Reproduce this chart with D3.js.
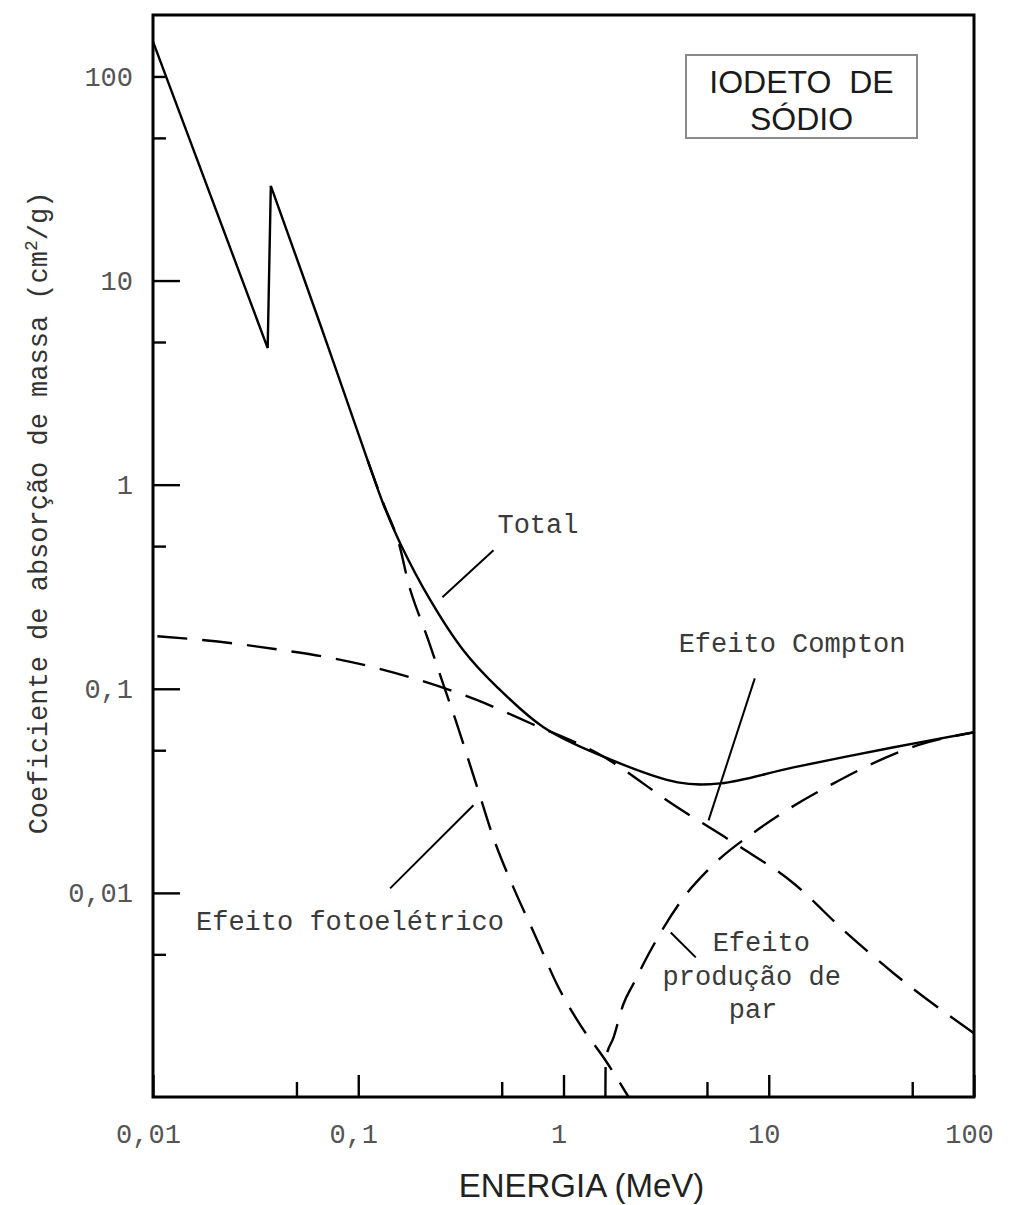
<!DOCTYPE html>
<html>
<head>
<meta charset="utf-8">
<script src="https://cdn.jsdelivr.net/npm/d3@7"></script>
<style>
  html, body { margin: 0; padding: 0; background: #fff; }
  svg { display: block; }
</style>
</head>
<body>
<svg id="chart" width="1011" height="1205"></svg>
<script>
// ---------------- DATA ----------------
// Energy in MeV, mass absorption coefficient in cm^2/g
const totalEnergyLow   = [0.01, 0.0362, 0.0375];
const totalValueLow    = [148, 4.67, 29.1];
const totalEnergyHigh  = [0.0375, 0.0653, 0.111, 0.132, 0.160, 0.2245, 0.325, 0.476, 0.799, 1.465, 3.60, 5.83, 13.2, 40.7, 100];
const totalValueHigh   = [29.1, 6.09, 1.32, 0.811, 0.517, 0.272, 0.1546, 0.1017, 0.0648, 0.0478, 0.0348, 0.0344, 0.0412, 0.0517, 0.0612];

const photoEnergy  = [0.111, 0.1324, 0.155, 0.1795, 0.2194, 0.2655, 0.3006, 0.3936, 0.4656, 0.570, 0.746, 0.946, 1.211, 1.603, 2.075];
const photoValue   = [1.32, 0.811, 0.547, 0.304, 0.173, 0.0984, 0.0685, 0.0294, 0.0175, 0.01064, 0.00585, 0.00344, 0.002244, 0.00151, 0.001];

const comptonEnergy = [0.0105, 0.0245, 0.0431, 0.0756, 0.1795, 0.380, 0.690, 1.465, 3.60, 7.06, 13.2, 23.2, 40.7, 100];
const comptonValue  = [0.181, 0.167, 0.1544, 0.141, 0.1138, 0.0879, 0.0678, 0.0483, 0.0262, 0.0171, 0.01115, 0.00655, 0.00403, 0.00205];

const pairEnergy = [1.60, 1.605, 1.754, 1.963, 2.195, 2.655, 3.85, 5.21, 9.14, 20.7, 53.3, 100];
const pairValue  = [0.001, 0.00153, 0.00196, 0.00287, 0.0036, 0.00522, 0.0095, 0.01334, 0.0209, 0.0344, 0.0529, 0.0612];

// Axis ticks and labels
const xMajorTicks = [0.01, 0.1, 1, 10, 100];
const xMinorTicks = [0.05, 0.5, 5, 50];
const yMajorTicks = [100, 10, 1, 0.1, 0.01];
const yMinorTicks = [50, 5, 0.5, 0.05, 0.005];

const xTitle = "ENERGIA (MeV)";
const yTitleMain = "Coeficiente de absorção de massa (cm";
const yTitleSup = "2";
const yTitleEnd = "/g)";
const boxLines = ["IODETO  DE", "SÓDIO"];

// Annotations (data coordinates)
const annotationTexts  = ["Total", "Efeito Compton", "Efeito fotoelétrico", "Efeito", "produção de", "par"];
const annotationEnergy = [0.4766, 3.64, 0.0162, 5.33, 3.04, 6.38];
const annotationValue  = [0.578, 0.151, 0.00655, 0.00522, 0.00352, 0.00243];

const pointerE1 = [0.456, 8.55, 0.364, 3.33];
const pointerV1 = [0.4775, 0.1125, 0.0269, 0.0064];
const pointerE2 = [0.257, 5.09, 0.143, 4.41];
const pointerV2 = [0.281, 0.02266, 0.01052, 0.00483];

// ---------------- DRAWING ----------------
const svg = d3.select("#chart");
svg.append("rect").attr("width", 1011).attr("height", 1205).attr("fill", "#fff");

const x = d3.scaleLog().domain([0.01, 100]).range([153, 974]);
const y = d3.scaleLog().domain([0.001, 200]).range([1097, 15]);

const monoFont = "'Liberation Mono', 'DejaVu Sans Mono', monospace";
const sansFont = "'Liberation Sans', Arial, sans-serif";
const fmt = d => String(d).replace(".", ",");

const zip = (a, b) => a.map((v, i) => [v, b[i]]);

const lineLinear = d3.line().x(d => x(d[0])).y(d => y(d[1])).curve(d3.curveLinear);
const lineSmooth = d3.line().x(d => x(d[0])).y(d => y(d[1])).curve(d3.curveMonotoneX);
const lineCatmull = d3.line().x(d => x(d[0])).y(d => y(d[1])).curve(d3.curveCatmullRom.alpha(0.5));

const plot = svg.append("g");

// Dashed component curves
const dash = "30,15";
[[photoEnergy, photoValue, lineCatmull], [comptonEnergy, comptonValue, lineSmooth], [pairEnergy, pairValue, lineSmooth]].forEach(([e, v, gen]) => {
  plot.append("path")
    .attr("d", gen(zip(e, v)))
    .attr("fill", "none")
    .attr("stroke", "#000")
    .attr("stroke-width", 2.4)
    .attr("stroke-dasharray", dash);
});

// Total solid curve
plot.append("path")
  .attr("d", lineLinear(zip(totalEnergyLow, totalValueLow)))
  .attr("fill", "none").attr("stroke", "#000").attr("stroke-width", 2.4)
  .attr("stroke-linejoin", "miter");
plot.append("path")
  .attr("d", lineCatmull(zip(totalEnergyHigh, totalValueHigh)))
  .attr("fill", "none").attr("stroke", "#000").attr("stroke-width", 2.4);

// Pointer lines
pointerE1.forEach((e, i) => {
  plot.append("line")
    .attr("x1", x(e)).attr("y1", y(pointerV1[i]))
    .attr("x2", x(pointerE2[i])).attr("y2", y(pointerV2[i]))
    .attr("stroke", "#000").attr("stroke-width", 2);
});

// Annotation texts
annotationTexts.forEach((t, i) => {
  plot.append("text")
    .attr("x", x(annotationEnergy[i]))
    .attr("y", y(annotationValue[i]))
    .attr("font-family", monoFont)
    .attr("font-size", 27)
    .attr("fill", "#3a3a3a")
    .text(t);
});

// Axes
const axisStyle = g => {
  g.select(".domain").remove();
  g.selectAll(".tick line").attr("stroke", "#000").attr("stroke-width", 2.4);
  g.selectAll(".tick text")
    .attr("font-family", monoFont)
    .attr("font-size", 27)
    .attr("fill", "#555");
};

const yMajor = svg.append("g").attr("transform", `translate(${x(0.01)},0)`)
  .call(d3.axisLeft(y).tickValues(yMajorTicks).tickSizeInner(-27).tickSizeOuter(0).tickPadding(20).tickFormat(fmt))
  .call(axisStyle);
yMajor.selectAll(".tick line").attr("x2", d => d === 100 ? 12 : 27);

svg.append("g").attr("transform", `translate(${x(0.01)},0)`)
  .call(d3.axisLeft(y).tickValues(yMinorTicks).tickSizeInner(-13).tickSizeOuter(0).tickFormat(""))
  .call(axisStyle);

const xMajor = svg.append("g").attr("transform", `translate(0,${y(0.001)})`)
  .call(d3.axisBottom(x).tickValues(xMajorTicks).tickSizeInner(-22).tickSizeOuter(0).tickPadding(27).tickFormat(fmt))
  .call(axisStyle);
xMajor.selectAll(".tick text").attr("transform", "translate(-5,0)");

svg.append("g").attr("transform", `translate(0,${y(0.001)})`)
  .call(d3.axisBottom(x).tickValues(xMinorTicks).tickSizeInner(-15).tickSizeOuter(0).tickFormat(""))
  .call(axisStyle);

// Frame
svg.append("rect")
  .attr("x", x(0.01)).attr("y", y(200))
  .attr("width", x(100) - x(0.01)).attr("height", y(0.001) - y(200))
  .attr("fill", "none").attr("stroke", "#000").attr("stroke-width", 3);

// Axis titles
svg.append("text")
  .attr("x", (x(0.01) + x(100)) / 2 + 18).attr("y", 1197)
  .attr("text-anchor", "middle")
  .attr("font-family", sansFont).attr("font-size", 33).attr("fill", "#222")
  .text(xTitle);

const yt = svg.append("text")
  .attr("transform", `translate(47,${(y(0.001) + y(200)) / 2 - 43}) rotate(-90)`)
  .attr("text-anchor", "middle")
  .attr("font-family", monoFont).attr("font-size", 27).attr("fill", "#333");
yt.append("tspan").text(yTitleMain);
yt.append("tspan").attr("dy", -10).attr("font-size", 18).text(yTitleSup);
yt.append("tspan").attr("dy", 10).text(yTitleEnd);

// Title box
const bx = 686, by = 55, bw = 231, bh = 83;
svg.append("rect").attr("x", bx).attr("y", by).attr("width", bw).attr("height", bh)
  .attr("fill", "#fff").attr("stroke", "#8a8a8a").attr("stroke-width", 2);
boxLines.forEach((t, i) => {
  svg.append("text")
    .attr("x", bx + bw / 2).attr("y", by + 38 + i * 37)
    .attr("text-anchor", "middle")
    .attr("font-family", sansFont).attr("font-size", 32).attr("fill", "#1a1a1a")
    .style("white-space", "pre")
    .text(t);
});
</script>
</body>
</html>
